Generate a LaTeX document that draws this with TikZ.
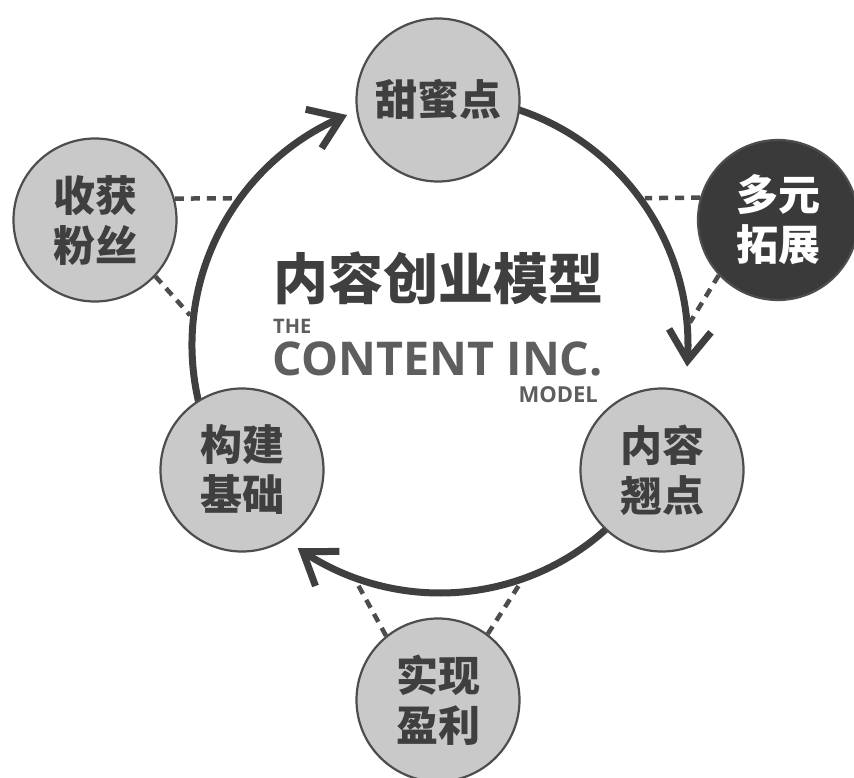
\documentclass[tikz,border=0pt]{standalone}
\usepackage{fontspec}
\newfontfamily\cjk{Noto Sans CJK SC}
\newfontfamily\en{Open Sans}
\usetikzlibrary{arrows.meta,bending,calc}
\definecolor{ink}{HTML}{3F3F3F}
\definecolor{disk}{HTML}{C9C9C9}
\definecolor{rim}{HTML}{4D4D4D}
\definecolor{darkdisk}{HTML}{3A3A3A}
\definecolor{engray}{HTML}{5E5E5E}
\begin{document}
\begin{tikzpicture}[x=1pt,y=-1pt,
  stage/.style={circle,draw=rim,line width=2.2pt,fill=disk,minimum size=163pt,inner sep=0pt,align=center,text=ink,font=\cjk\bfseries\fontsize{42}{50}\selectfont},
  hot/.style={stage,fill=darkdisk,text=white,minimum size=160pt},
  loopline/.style={draw=ink,line width=7pt,-{Straight Barb[length=30pt,width=42pt,line width=7pt]}},
  dotlink/.style={draw=rim,line width=4.5pt,dash pattern=on 9pt off 7pt,shorten >=5pt},
  entext/.style={inner sep=0pt,text=engray,font=\en\bfseries}
]
\fill[white] (0,0) rectangle (854,778);
\useasboundingbox (0,0) rectangle (854,778);

\coordinate (O) at (440,345);
% arcs of the cycle
\coordinate (a1s) at ($(O)+(-74:248)$);
\coordinate (a2s) at ($(O)+(45:248)$);
\coordinate (a3s) at ($(O)+(165:248)$);
\draw[loopline] (a1s) arc[start angle=-74,end angle=5,radius=248];
\draw[loopline] (a2s) arc[start angle=45,end angle=125,radius=248];
\draw[loopline] (a3s) arc[start angle=165,end angle=248,radius=248];

% stage circles
\node[stage] (sweet) at (438,100) {甜蜜点};
\node[stage] (fans) at (95,220) {收获\\粉丝};
\node[hot] (expand) at (778,220) {多元\\拓展};
\node[stage] (base) at (242,470) {构建\\基础};
\node[stage] (content) at (662,470) {内容\\翘点};
\node[stage] (profit) at (438,700) {实现\\盈利};

% dotted links to the cycle
\coordinate (p1) at ($(O)+(216.3:248)$);
\coordinate (p2) at ($(O)+(186:248)$);
\coordinate (p3) at ($(O)+(-36.3:248)$);
\coordinate (p4) at ($(O)+(-4.2:248)$);
\coordinate (p5) at ($(O)+(110.3:248)$);
\coordinate (p6) at ($(O)+(70.4:248)$);
\draw[dotlink] (fans.15) -- (p1);
\draw[dotlink] (fans.-43) -- (p2);
\draw[dotlink] (expand.164) -- (p3);
\draw[dotlink] (expand.223) -- (p4);
\draw[dotlink] (profit.129) -- (p5);
\draw[dotlink] (profit.53) -- (p6);

% title
\node[inner sep=0pt,text=ink,font=\cjk\bfseries\fontsize{55}{60}\selectfont] (title) at (438,278) {内容创业模型};
\node[entext,anchor=west,font=\en\bfseries\fontsize{20}{20}\selectfont] (the) at (273,326) {THE};
\node[entext,anchor=center] (cinc) at (438,359) {\resizebox{330pt}{!}{\fontsize{46}{46}\selectfont CONTENT INC.}};
\node[entext,anchor=east,font=\en\bfseries\fontsize{22}{22}\selectfont] (model) at (598,395) {MODEL};
\end{tikzpicture}
\end{document}
